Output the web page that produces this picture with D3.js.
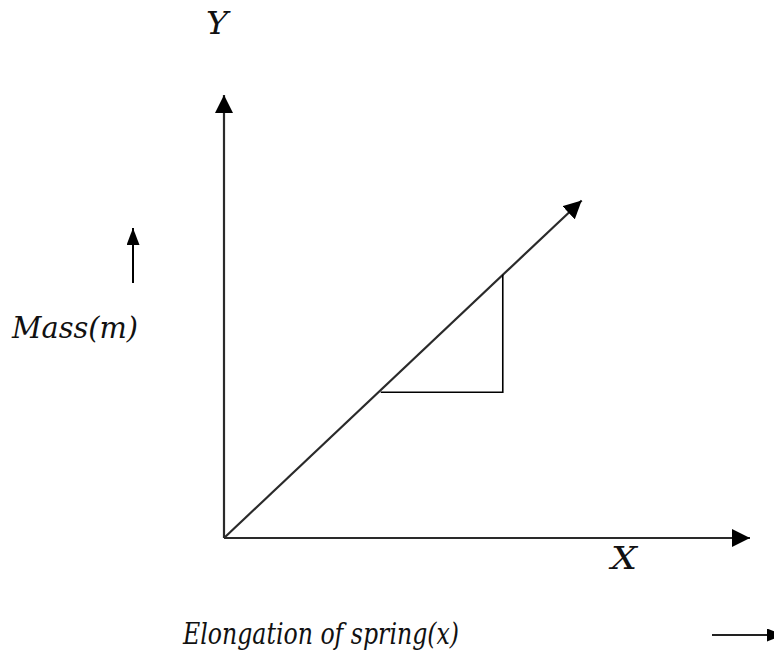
<!DOCTYPE html>
<html>
<head>
<meta charset="utf-8">
<script src="https://cdn.jsdelivr.net/npm/d3@7"></script>
<style>
  html, body { margin: 0; padding: 0; background: #fff; }
  svg { display: block; }
</style>
</head>
<body>
<svg id="chart" width="774" height="654"></svg>
<script>
// Axis extents (arbitrary units)
const xDomain = [0, 10];
const yDomain = [0, 10];

// Straight line through the origin: mass against elongation
const elongation = [0, 6.8];
const mass = [0, 7.62];

// Slope triangle under the line (run then rise)
const triX = [2.98, 5.3, 5.3];
const triY = [3.29, 3.29, 5.94];

// Labels
const xAxisLetter = "X";
const yAxisLetter = "Y";
const xTitle = "Elongation of spring(x)";
const yTitle = "Mass(m)";

const serif = "'DejaVu Serif', serif";

const svg = d3.select("#chart");

const x = d3.scaleLinear().domain(xDomain).range([224, 750]);
const y = d3.scaleLinear().domain(yDomain).range([538, 95]);

// Arrowhead markers
const defs = svg.append("defs");
function marker(id, len, wid) {
  defs.append("marker")
    .attr("id", id)
    .attr("markerUnits", "userSpaceOnUse")
    .attr("viewBox", `0 ${-wid / 2} ${len} ${wid}`)
    .attr("refX", len)
    .attr("refY", 0)
    .attr("markerWidth", len)
    .attr("markerHeight", wid)
    .attr("orient", "auto")
    .append("path")
    .attr("d", `M0,${-wid / 2}L${len},0L0,${wid / 2}Z`)
    .attr("fill", "#000");
}
marker("head", 18, 18);
marker("headSmall", 17, 13);

const axisStroke = "#2a2a2a";

// Y axis
svg.append("line")
  .attr("x1", x(0)).attr("y1", y(0))
  .attr("x2", x(0)).attr("y2", y(yDomain[1]))
  .attr("stroke", axisStroke).attr("stroke-width", 2.2)
  .attr("marker-end", "url(#head)");

// X axis
svg.append("line")
  .attr("x1", x(0)).attr("y1", y(0))
  .attr("x2", x(xDomain[1])).attr("y2", y(0))
  .attr("stroke", axisStroke).attr("stroke-width", 2.2)
  .attr("marker-end", "url(#head)");

// Proportional line
const lineGen = d3.line().x(d => x(d[0])).y(d => y(d[1]));
svg.append("path")
  .datum(d3.zip(elongation, mass))
  .attr("d", lineGen)
  .attr("fill", "none")
  .attr("stroke", axisStroke).attr("stroke-width", 2.2)
  .attr("marker-end", "url(#head)");

// Slope triangle
svg.append("path")
  .datum(d3.zip(triX, triY))
  .attr("d", lineGen)
  .attr("fill", "none")
  .attr("stroke", "#000").attr("stroke-width", 1.6);

// Text helper: optional fitted width condenses the serif face
function label(px, py, size, str, width) {
  const t = svg.append("text")
    .attr("x", px).attr("y", py)
    .attr("font-family", serif)
    .attr("font-style", "italic")
    .attr("font-size", size)
    .attr("fill", "#111")
    .text(str);
  if (width) t.attr("textLength", width).attr("lengthAdjust", "spacingAndGlyphs");
}

// Axis letters
label(206, 34, 31, yAxisLetter, 22);
label(611, 569, 31, xAxisLetter, 26);

// Titles
label(12, 338, 29, yTitle, 126);
label(183, 644, 29, xTitle, 276);

// Direction arrows beside titles
svg.append("line")
  .attr("x1", 133).attr("y1", 283).attr("x2", 133).attr("y2", 228)
  .attr("stroke", "#000").attr("stroke-width", 2)
  .attr("marker-end", "url(#headSmall)");
svg.append("line")
  .attr("x1", 712).attr("y1", 635).attr("x2", 784).attr("y2", 635)
  .attr("stroke", "#222").attr("stroke-width", 2.2)
  .attr("marker-end", "url(#headSmall)");
</script>
</body>
</html>
